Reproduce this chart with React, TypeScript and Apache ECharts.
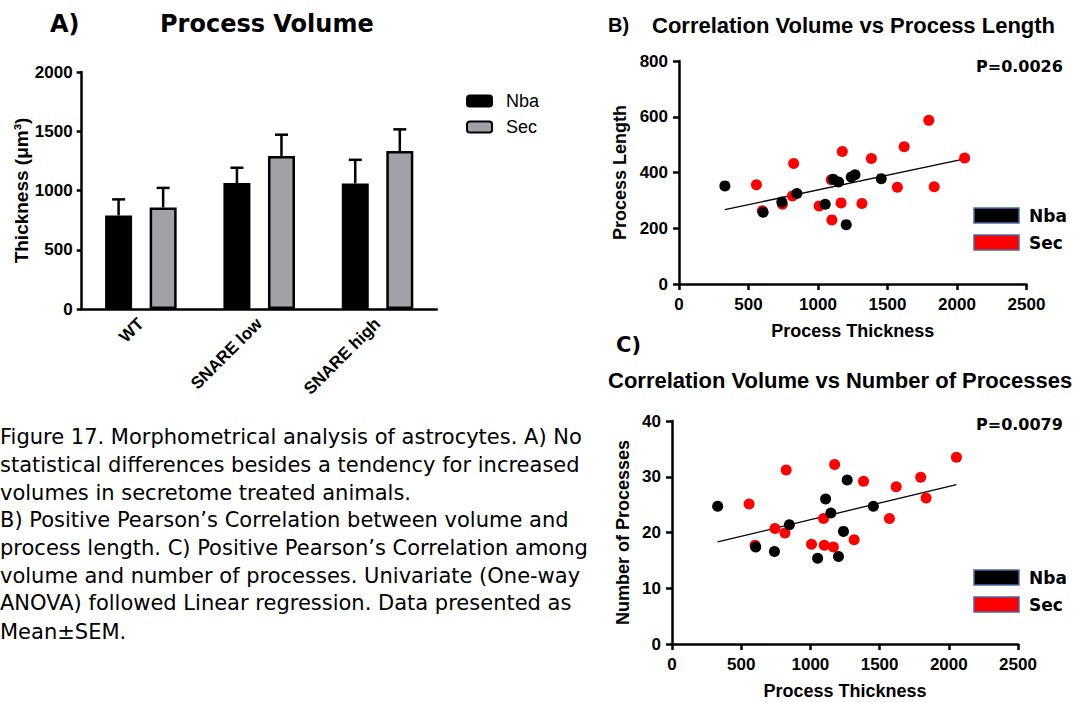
import React, { useEffect, useRef } from "react";
import * as echarts from "echarts";

// ---- Panel A data ----
const categories = ["WT", "SNARE low", "SNARE high"];
const nbaMean = [790, 1063, 1060];
const nbaSem = [135, 129, 199];
const secMean = [857, 1292, 1333];
const secSem = [165, 179, 183];
const volumeTicks = { min: 0, max: 2000, interval: 500 };

// ---- Panels B & C data (per animal) ----
const nbaThickness = [330, 605, 740, 848, 1052, 1110, 1148, 1203, 1239, 1266, 1455];
const nbaLength = [352, 257, 294, 325, 286, 376, 366, 213, 384, 392, 378];
const nbaProcesses = [24.7, 17.4, 16.6, 21.4, 15.4, 26.0, 23.5, 15.7, 20.2, 29.4, 24.7];

const secThickness = [557, 600, 744, 816, 825, 1008, 1100, 1095, 1166, 1175, 1316, 1384, 1571, 1620, 1797, 1836, 2055];
const secLength = [356, 263, 286, 316, 432, 280, 230, 374, 291, 475, 289, 450, 347, 492, 587, 349, 452];
const secProcesses = [25.1, 17.7, 20.7, 19.9, 31.2, 17.9, 17.7, 22.5, 17.4, 32.2, 18.7, 29.2, 22.5, 28.2, 29.9, 26.2, 33.5];

// regression line end points
const fitLength = [[330, 267], [2055, 449]];
const fitProcesses = [[330, 18.3], [2055, 28.6]];

const pLength = "P=0.0026";
const pProcesses = "P=0.0079";

const captionLines = [
  "Figure 17. Morphometrical analysis of astrocytes. A) No",
  "statistical differences besides a tendency for increased",
  "volumes in secretome treated animals.",
  "B) Positive Pearson\u2019s Correlation between volume and",
  "process length. C) Positive Pearson\u2019s Correlation among",
  "volume and number of processes. Univariate (One-way",
  "ANOVA) followed Linear regression. Data presented as",
  "Mean\u00b1SEM.",
];

const BAR_W = 27;
const BAR_GAP = 0.65;
const RED = "#ff0000";
const GRAY = "#a2a2a6";
const ARIAL = "Liberation Sans, Arial, sans-serif";
const DEJAVU = "DejaVu Sans, sans-serif";

const plain = (v: number) => String(v);

function zip(xs: number[], ys: number[]) {
  return xs.map((x, i) => [x, ys[i]]);
}

function errData(means: number[], sems: number[]) {
  return means.map((m, i) => [i, m, sems[i]]);
}

function errRender(offset: number) {
  return (_params: any, api: any) => {
    const cat = api.value(0);
    const v = api.value(1);
    const e = api.value(2);
    const base = api.coord([cat, v]);
    const top = api.coord([cat, v + e]);
    const x = base[0] + offset;
    const st = { stroke: "#000", lineWidth: 2.5 };
    return {
      type: "group",
      children: [
        { type: "line", shape: { x1: x, y1: base[1], x2: x, y2: top[1] }, style: st },
        { type: "line", shape: { x1: x - 6.5, y1: top[1], x2: x + 6.5, y2: top[1] }, style: st },
      ],
    };
  };
}

function txt(text: string, x: number, y: number, size: number, family: string, weight: any = "bold", align = "left") {
  return {
    type: "text",
    x,
    y,
    silent: true,
    style: {
      text,
      fill: "#000",
      fontSize: size,
      fontWeight: weight,
      fontFamily: family,
      align,
      verticalAlign: "middle",
    },
  };
}

function legendBox(y: number, color: string, label: string) {
  return [
    {
      type: "rect",
      shape: { x: 974, y, width: 45, height: 15 },
      style: { fill: color, stroke: "#4a6aa8", lineWidth: 1.5 },
    },
    txt(label, 1029, y + 8, 17, DEJAVU),
  ];
}

const scatterAxisCommon = {
  axisLine: { show: true, onZero: false, lineStyle: { color: "#000", width: 2.5 } },
  axisTick: { show: true, inside: false, length: 6, lineStyle: { color: "#000", width: 2.5 } },
  splitLine: { show: false },
  axisLabel: { color: "#000", fontSize: 17, fontWeight: "bold", fontFamily: ARIAL, formatter: plain },
  nameTextStyle: { color: "#000", fontSize: 18, fontWeight: "bold", fontFamily: ARIAL },
  nameLocation: "middle",
};

export default function App() {
  const ref = useRef<HTMLDivElement>(null);

  useEffect(() => {
    if (!ref.current) return;
    const chart = echarts.init(ref.current, undefined, { renderer: "svg" });
    const off = (BAR_W + BAR_W * BAR_GAP) / 2;

    const graphic: any[] = [
      txt("A)", 50, 24, 24, DEJAVU),
      txt("Process Volume", 160, 24, 24, DEJAVU),
      txt("B)", 608, 25, 20, ARIAL),
      txt("Correlation Volume vs Process Length", 652, 25, 22, ARIAL),
      txt("C)", 616, 345, 21, DEJAVU),
      txt("Correlation Volume vs Number of Processes", 608, 380, 22, ARIAL),
      txt(pLength, 976, 66, 16, DEJAVU),
      txt(pProcesses, 976, 424, 16, DEJAVU),
      ...legendBox(208, "#000", "Nba"),
      ...legendBox(235, RED, "Sec"),
      ...legendBox(570, "#000", "Nba"),
      ...legendBox(597, RED, "Sec"),
    ];
    const capY = [437, 465, 493, 520, 548, 576, 603, 632];
    captionLines.forEach((l, i) => {
      graphic.push(txt(l, 0, capY[i], 21, DEJAVU, "normal"));
    });

    const option: any = {
      animation: false,
      backgroundColor: "#fff",
      grid: [
        { left: 81.7, top: 72, width: 355, height: 237, outerBoundsMode: "none", containLabel: false },
        { left: 679, top: 61, width: 347.5, height: 223, outerBoundsMode: "none", containLabel: false },
        { left: 672, top: 421, width: 346, height: 223, outerBoundsMode: "none", containLabel: false },
      ],
      legend: {
        data: ["Nba", "Sec"],
        orient: "vertical",
        left: 461,
        top: 87,
        itemWidth: 25,
        itemHeight: 11,
        itemGap: 8,
        selectedMode: false,
        textStyle: { color: "#000", fontSize: 18, fontFamily: ARIAL, lineHeight: 18, padding: [0, 0, 0, 9] },
      },
      xAxis: [
        {
          gridIndex: 0,
          type: "category",
          data: categories,
          boundaryGap: true,
          axisLine: { lineStyle: { color: "#000", width: 2.5 } },
          axisTick: { alignWithLabel: true, length: 6, lineStyle: { color: "#000", width: 2.5 } },
          axisLabel: { rotate: 45, margin: 12, color: "#000", fontSize: 17, fontWeight: "bold", fontFamily: ARIAL },
        },
        {
          ...scatterAxisCommon,
          gridIndex: 1,
          type: "value",
          min: 0,
          max: 2500,
          interval: 500,
          name: "Process Thickness",
          nameGap: 38,
          axisLabel: { ...scatterAxisCommon.axisLabel, margin: 12 },
        },
        {
          ...scatterAxisCommon,
          gridIndex: 2,
          type: "value",
          min: 0,
          max: 2500,
          interval: 500,
          name: "Process Thickness",
          nameGap: 38,
          axisLabel: { ...scatterAxisCommon.axisLabel, margin: 12 },
        },
      ],
      yAxis: [
        {
          gridIndex: 0,
          type: "value",
          ...volumeTicks,
          name: "Thickness (\u03bcm\u00b3)",
          nameLocation: "middle",
          nameGap: 46,
          nameTextStyle: { color: "#000", fontSize: 19, fontWeight: "bold", fontFamily: ARIAL },
          axisLine: { show: true, lineStyle: { color: "#000", width: 2.5 } },
          axisTick: { show: true, length: 5, lineStyle: { color: "#000", width: 2.5 } },
          splitLine: { show: false },
          axisLabel: { margin: 9, color: "#000", fontSize: 17, fontWeight: "bold", fontFamily: ARIAL, formatter: plain },
        },
        {
          ...scatterAxisCommon,
          gridIndex: 1,
          type: "value",
          min: 0,
          max: 800,
          interval: 200,
          name: "Process Length",
          nameGap: 50,
          axisLabel: { ...scatterAxisCommon.axisLabel, margin: 11 },
        },
        {
          ...scatterAxisCommon,
          gridIndex: 2,
          type: "value",
          min: 0,
          max: 40,
          interval: 10,
          name: "Number of Processes",
          nameGap: 40,
          axisLabel: { ...scatterAxisCommon.axisLabel, margin: 11 },
        },
      ],
      graphic,
      series: [
        {
          name: "Nba",
          type: "bar",
          xAxisIndex: 0,
          yAxisIndex: 0,
          data: nbaMean,
          barWidth: BAR_W,
          barGap: BAR_GAP * 100 + "%",
          itemStyle: { color: "#000", borderColor: "#000", borderWidth: 2 },
        },
        {
          name: "Sec",
          type: "bar",
          xAxisIndex: 0,
          yAxisIndex: 0,
          data: secMean,
          barWidth: BAR_W,
          barGap: BAR_GAP * 100 + "%",
          itemStyle: { color: GRAY, borderColor: "#000", borderWidth: 2.5 },
        },
        {
          name: "Nba SEM",
          type: "custom",
          xAxisIndex: 0,
          yAxisIndex: 0,
          data: errData(nbaMean, nbaSem),
          encode: { x: 0, y: 1 },
          renderItem: errRender(-off),
          z: 5,
        },
        {
          name: "Sec SEM",
          type: "custom",
          xAxisIndex: 0,
          yAxisIndex: 0,
          data: errData(secMean, secSem),
          encode: { x: 0, y: 1 },
          renderItem: errRender(off),
          z: 5,
        },
        // Panel B
        {
          name: "Sec length",
          type: "scatter",
          xAxisIndex: 1,
          yAxisIndex: 1,
          symbolSize: 11,
          itemStyle: { color: RED, opacity: 1 },
          data: zip(secThickness, secLength),
        },
        {
          name: "Nba length",
          type: "scatter",
          xAxisIndex: 1,
          yAxisIndex: 1,
          symbolSize: 11,
          itemStyle: { color: "#000", opacity: 1 },
          data: zip(nbaThickness, nbaLength),
        },
        {
          name: "Fit length",
          type: "line",
          xAxisIndex: 1,
          yAxisIndex: 1,
          symbol: "none",
          lineStyle: { color: "#000", width: 1.3 },
          data: fitLength,
          z: 1,
        },
        // Panel C
        {
          name: "Sec processes",
          type: "scatter",
          xAxisIndex: 2,
          yAxisIndex: 2,
          symbolSize: 11,
          itemStyle: { color: RED, opacity: 1 },
          data: zip(secThickness, secProcesses),
        },
        {
          name: "Nba processes",
          type: "scatter",
          xAxisIndex: 2,
          yAxisIndex: 2,
          symbolSize: 11,
          itemStyle: { color: "#000", opacity: 1 },
          data: zip(nbaThickness, nbaProcesses),
        },
        {
          name: "Fit processes",
          type: "line",
          xAxisIndex: 2,
          yAxisIndex: 2,
          symbol: "none",
          lineStyle: { color: "#000", width: 1.3 },
          data: fitProcesses,
          z: 1,
        },
      ],
    };
    chart.setOption(option);
    return () => chart.dispose();
  }, []);

  return (
    <div
      ref={ref}
      style={{ position: "fixed", left: 0, top: 0, width: 1083, height: 702, background: "#fff" }}
    />
  );
}
